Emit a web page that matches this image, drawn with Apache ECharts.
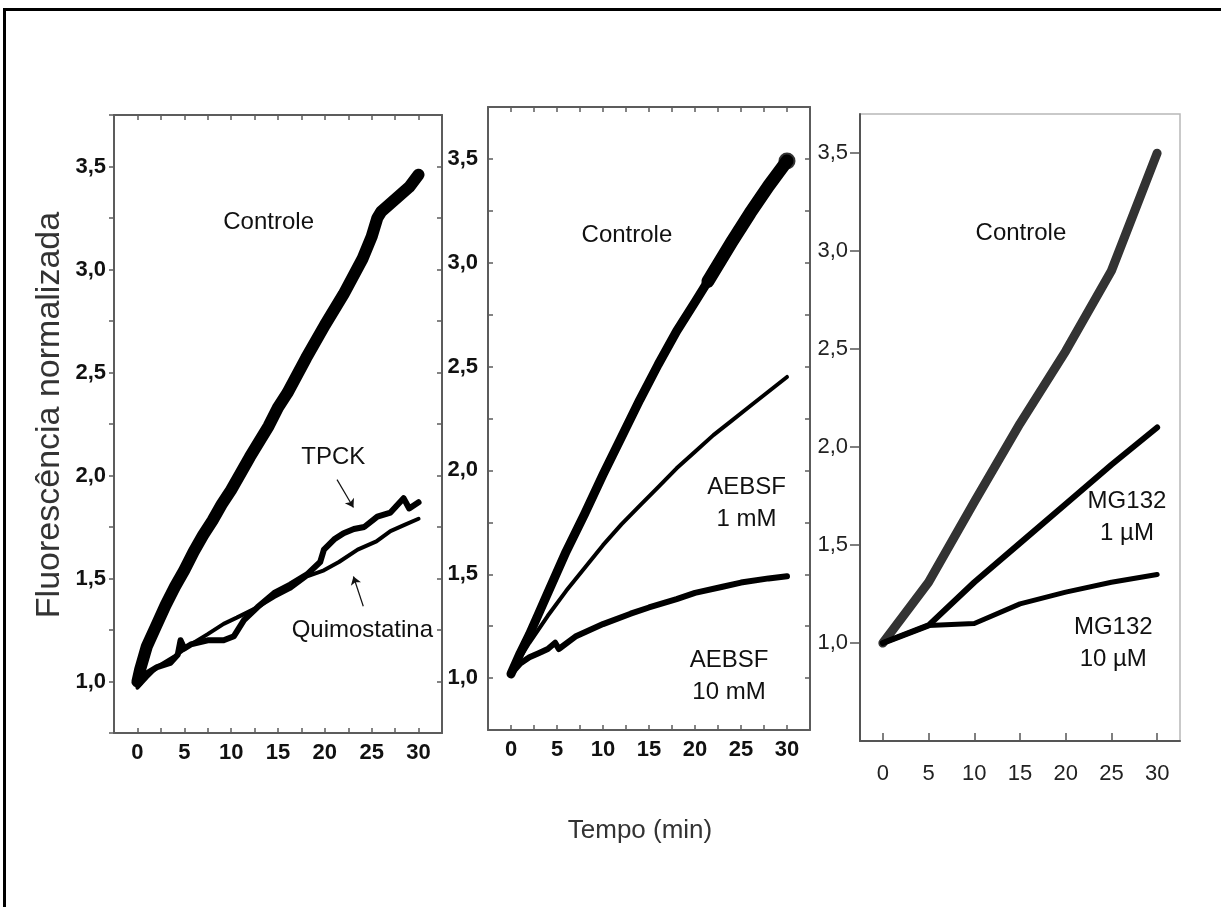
<!DOCTYPE html>
<html>
<head>
<meta charset="utf-8">
<script src="https://cdn.jsdelivr.net/npm/echarts@6/dist/echarts.min.js"></script>
<style>
  html, body { margin: 0; padding: 0; background: #fff; }
  #chart { width: 1221px; height: 907px; }
</style>
</head>
<body>
<div id="chart"></div>
<script>
// ---- panel 1: Controle / TPCK / Quimostatina ----
const p1CtrlTime = [0, 0.3, 1, 2, 3, 4, 5, 6, 7, 8, 9, 10, 12, 14, 15, 16, 18, 20, 22, 24, 25, 25.6, 26, 27, 28, 29, 30];
const p1CtrlValue = [1.0, 1.06, 1.17, 1.27, 1.37, 1.46, 1.54, 1.63, 1.71, 1.78, 1.86, 1.93, 2.09, 2.24, 2.33, 2.40, 2.57, 2.73, 2.88, 3.05, 3.16, 3.25, 3.28, 3.32, 3.36, 3.40, 3.46];
const tpckTime = [0, 1, 2.1, 3.5, 4.3, 4.6, 5, 5.7, 7.5, 9.2, 10.3, 11.4, 12.8, 14.6, 16.3, 18.1, 19.5, 19.9, 21, 22, 23.1, 24.2, 25.6, 27, 28.4, 29, 30];
const tpckValue = [1.0, 1.04, 1.07, 1.09, 1.13, 1.20, 1.16, 1.18, 1.20, 1.20, 1.22, 1.30, 1.36, 1.43, 1.47, 1.52, 1.58, 1.64, 1.69, 1.72, 1.74, 1.75, 1.80, 1.82, 1.89, 1.84, 1.87];
const quimTime = [0, 1, 2.1, 3.9, 5.7, 7.5, 9.2, 10.6, 12.8, 14.6, 16.3, 18.1, 19.9, 21.5, 23.5, 25.5, 27, 28.5, 30];
const quimValue = [0.97, 1.02, 1.07, 1.12, 1.18, 1.23, 1.28, 1.31, 1.36, 1.41, 1.45, 1.51, 1.54, 1.58, 1.64, 1.68, 1.73, 1.76, 1.79];

// ---- panel 2: Controle / AEBSF ----
const p2CtrlTime = [0, 1, 2, 3, 4, 5, 6, 8, 10, 12, 14, 16, 18, 20, 21.4];
const p2CtrlValue = [1.02, 1.12, 1.21, 1.31, 1.41, 1.51, 1.61, 1.79, 1.98, 2.16, 2.34, 2.51, 2.67, 2.81, 2.91];
const p2TailTime = [21.4, 24, 26, 28, 30];
const p2TailValue = [2.91, 3.10, 3.24, 3.37, 3.49];
const aeb1Time = [0, 1, 2, 4, 6, 8, 10, 12, 14, 16, 18, 20, 22, 24, 26, 28, 30];
const aeb1Value = [1.02, 1.10, 1.17, 1.30, 1.42, 1.53, 1.64, 1.74, 1.83, 1.92, 2.01, 2.09, 2.17, 2.24, 2.31, 2.38, 2.45];
const aeb10Time = [0, 1, 2, 3, 4, 4.8, 5.2, 7, 10, 13, 15, 18, 20, 23, 25, 28, 30];
const aeb10Value = [1.02, 1.07, 1.10, 1.12, 1.14, 1.17, 1.14, 1.20, 1.26, 1.31, 1.34, 1.38, 1.41, 1.44, 1.46, 1.48, 1.49];

// ---- panel 3: MG132 ----
const p3Time = [0, 5, 10, 15, 20, 25, 30];
const p3Ctrl = [1.0, 1.31, 1.72, 2.12, 2.49, 2.90, 3.50];
const p3Mg1 = [1.0, 1.09, 1.31, 1.51, 1.71, 1.91, 2.10];
const p3Mg10 = [1.0, 1.09, 1.10, 1.20, 1.26, 1.31, 1.35];

const timeTicks = [0, 5, 10, 15, 20, 25, 30];
const fluoTicks = [1.0, 1.5, 2.0, 2.5, 3.0, 3.5];

// annotations, in data coordinates of each panel
const notes = [
  { panel: 0, text: 'Controle', at: [14.0, 3.23] },
  { panel: 0, text: 'TPCK', at: [20.9, 2.09] },
  { panel: 0, text: 'Quimostatina', at: [24.0, 1.25] },
  { panel: 1, text: 'Controle', at: [12.6, 3.13] },
  { panel: 1, text: 'AEBSF\n1 mM', at: [25.6, 1.84] },
  { panel: 1, text: 'AEBSF\n10 mM', at: [23.7, 1.01] },
  { panel: 2, text: 'Controle', at: [15.1, 3.09] },
  { panel: 2, text: 'MG132\n1 µM', at: [26.7, 1.64] },
  { panel: 2, text: 'MG132\n10 µM', at: [25.2, 1.0] }
];

const zip = (xs, ys) => xs.map((x, i) => [x, ys[i]]);
const isHalf = v => Math.abs(v * 2 - Math.round(v * 2)) < 1e-6;
const timeLabel = v => (v >= 0 && v <= 30 && v % 5 === 0) ? String(v) : '';
const fluoLabel = v => (isHalf(v) && v >= 1 && v <= 3.5) ? v.toFixed(1).replace('.', ',') : '';

const font = 'Liberation Sans, Arial, sans-serif';
const axisGray = '#5c5c5c';
const boldTick = { fontFamily: font, fontSize: 22, fontWeight: 'bold', color: '#111' };

const chart = echarts.init(document.getElementById('chart'));

const grids = [
  { left: 114, top: 115, width: 328, height: 618 },
  { left: 488, top: 107, width: 322, height: 623 },
  { left: 860, top: 114, width: 320, height: 627, show: true, borderColor: '#b8b8b8', borderWidth: 1.5 }
];

const boxX = (gi, pos, labels) => ({
  gridIndex: gi, type: 'value', position: pos, min: -2.5, max: 32.5, interval: 2.5,
  axisLine: { onZero: false, lineStyle: { color: axisGray, width: 2 } },
  axisTick: { inside: true, length: 5, lineStyle: { color: axisGray, width: 1.5 } },
  axisLabel: labels ? { ...boldTick, margin: 9, formatter: timeLabel } : { show: false },
  splitLine: { show: false }
});
const boxY = (gi, pos, labels, inside, margin) => ({
  gridIndex: gi, type: 'value', position: pos, min: 0.75, max: 3.75, interval: 0.25,
  axisLine: { onZero: false, lineStyle: { color: axisGray, width: 2 } },
  axisTick: { inside: inside, length: 5, lineStyle: { color: axisGray, width: 1.5 } },
  axisLabel: labels ? { ...boldTick, margin: margin, formatter: fluoLabel } : { show: false },
  splitLine: { show: false }
});

const xAxis = [
  boxX(0, 'bottom', true), boxX(0, 'top', false),
  boxX(1, 'bottom', true), boxX(1, 'top', false),
  {
    gridIndex: 2, type: 'value', min: -2.5, max: 32.5,
    axisLine: { onZero: false, lineStyle: { color: '#555', width: 2 } },
    axisTick: { inside: true, length: 8, customValues: timeTicks, lineStyle: { color: '#555', width: 1.5 } },
    axisLabel: { customValues: timeTicks, fontFamily: font, fontSize: 22, color: '#222', margin: 22 },
    splitLine: { show: false }
  }
];
const yAxis = [
  boxY(0, 'left', true, false, 8), boxY(0, 'right', false, true),
  boxY(1, 'left', true, true, 10), boxY(1, 'right', false, true),
  {
    gridIndex: 2, type: 'value', min: 0.5, max: 3.7,
    axisLine: { onZero: false, lineStyle: { color: '#555', width: 2 } },
    axisTick: { length: 10, customValues: fluoTicks, lineStyle: { color: '#555', width: 1.5 } },
    axisLabel: { customValues: fluoTicks, formatter: fluoLabel, fontFamily: font, fontSize: 22, color: '#222', margin: 12 },
    splitLine: { show: false }
  }
];

const line = (xi, yi, data, width, color) => ({
  type: 'line', xAxisIndex: xi, yAxisIndex: yi, data: data,
  showSymbol: false, symbol: 'none', silent: true,
  lineStyle: { color: color || '#000', width: width, cap: 'round', join: 'round' }
});

const tpck = line(0, 0, zip(tpckTime, tpckValue), 6);
tpck.markLine = {
  silent: true, symbol: ['none', 'arrow'], symbolSize: 8,
  label: { show: false },
  lineStyle: { color: '#111', width: 1.2, type: 'solid' },
  data: [
    [{ coord: [21.3, 1.98] }, { coord: [23.05, 1.845] }],
    [{ coord: [24.1, 1.365] }, { coord: [23.05, 1.51] }]
  ]
};

const series = [
  line(0, 0, zip(p1CtrlTime, p1CtrlValue), 12),
  tpck,
  line(0, 0, zip(quimTime, quimValue), 4),
  line(2, 2, zip(p2CtrlTime, p2CtrlValue), 9),
  line(2, 2, zip(p2TailTime, p2TailValue), 13),
  {
    type: 'scatter', xAxisIndex: 2, yAxisIndex: 2, silent: true,
    symbolSize: 17, itemStyle: { color: '#000' },
    data: [[p2TailTime[p2TailTime.length - 1], p2TailValue[p2TailValue.length - 1]]]
  },
  line(2, 2, zip(aeb1Time, aeb1Value), 4),
  line(2, 2, zip(aeb10Time, aeb10Value), 6),
  line(4, 4, zip(p3Time, p3Ctrl), 9, '#333'),
  line(4, 4, zip(p3Time, p3Mg1), 6),
  line(4, 4, zip(p3Time, p3Mg10), 5)
];

chart.setOption({
  animation: false,
  backgroundColor: '#fff',
  grid: grids,
  xAxis: xAxis,
  yAxis: yAxis,
  series: series
});

// text and frame drawn on top, placed from data coordinates
const panelAxes = [[0, 0], [2, 2], [4, 4]];
const graphics = notes.map(n => {
  const p = chart.convertToPixel({ xAxisIndex: panelAxes[n.panel][0], yAxisIndex: panelAxes[n.panel][1] }, n.at);
  return {
    type: 'text', x: p[0], y: p[1], silent: true,
    style: {
      text: n.text, fill: '#111', font: '24px ' + font,
      align: 'center', verticalAlign: 'middle', lineHeight: 32
    }
  };
});
graphics.push(
  {
    type: 'text', x: 50, y: 415, rotation: Math.PI / 2, silent: true,
    style: { text: 'Fluorescência normalizada', fill: '#333', font: '34px ' + font, align: 'center', verticalAlign: 'middle' }
  },
  {
    type: 'text', x: 640, y: 831, silent: true,
    style: { text: 'Tempo (min)', fill: '#333', font: '26px ' + font, align: 'center', verticalAlign: 'middle' }
  },
  {
    type: 'polyline', silent: true,
    shape: { points: [[4.5, 907], [4.5, 9.5], [1221, 9.5]] },
    style: { stroke: '#000', lineWidth: 3, fill: null }
  }
);
chart.setOption({ graphic: graphics });
</script>
</body>
</html>
